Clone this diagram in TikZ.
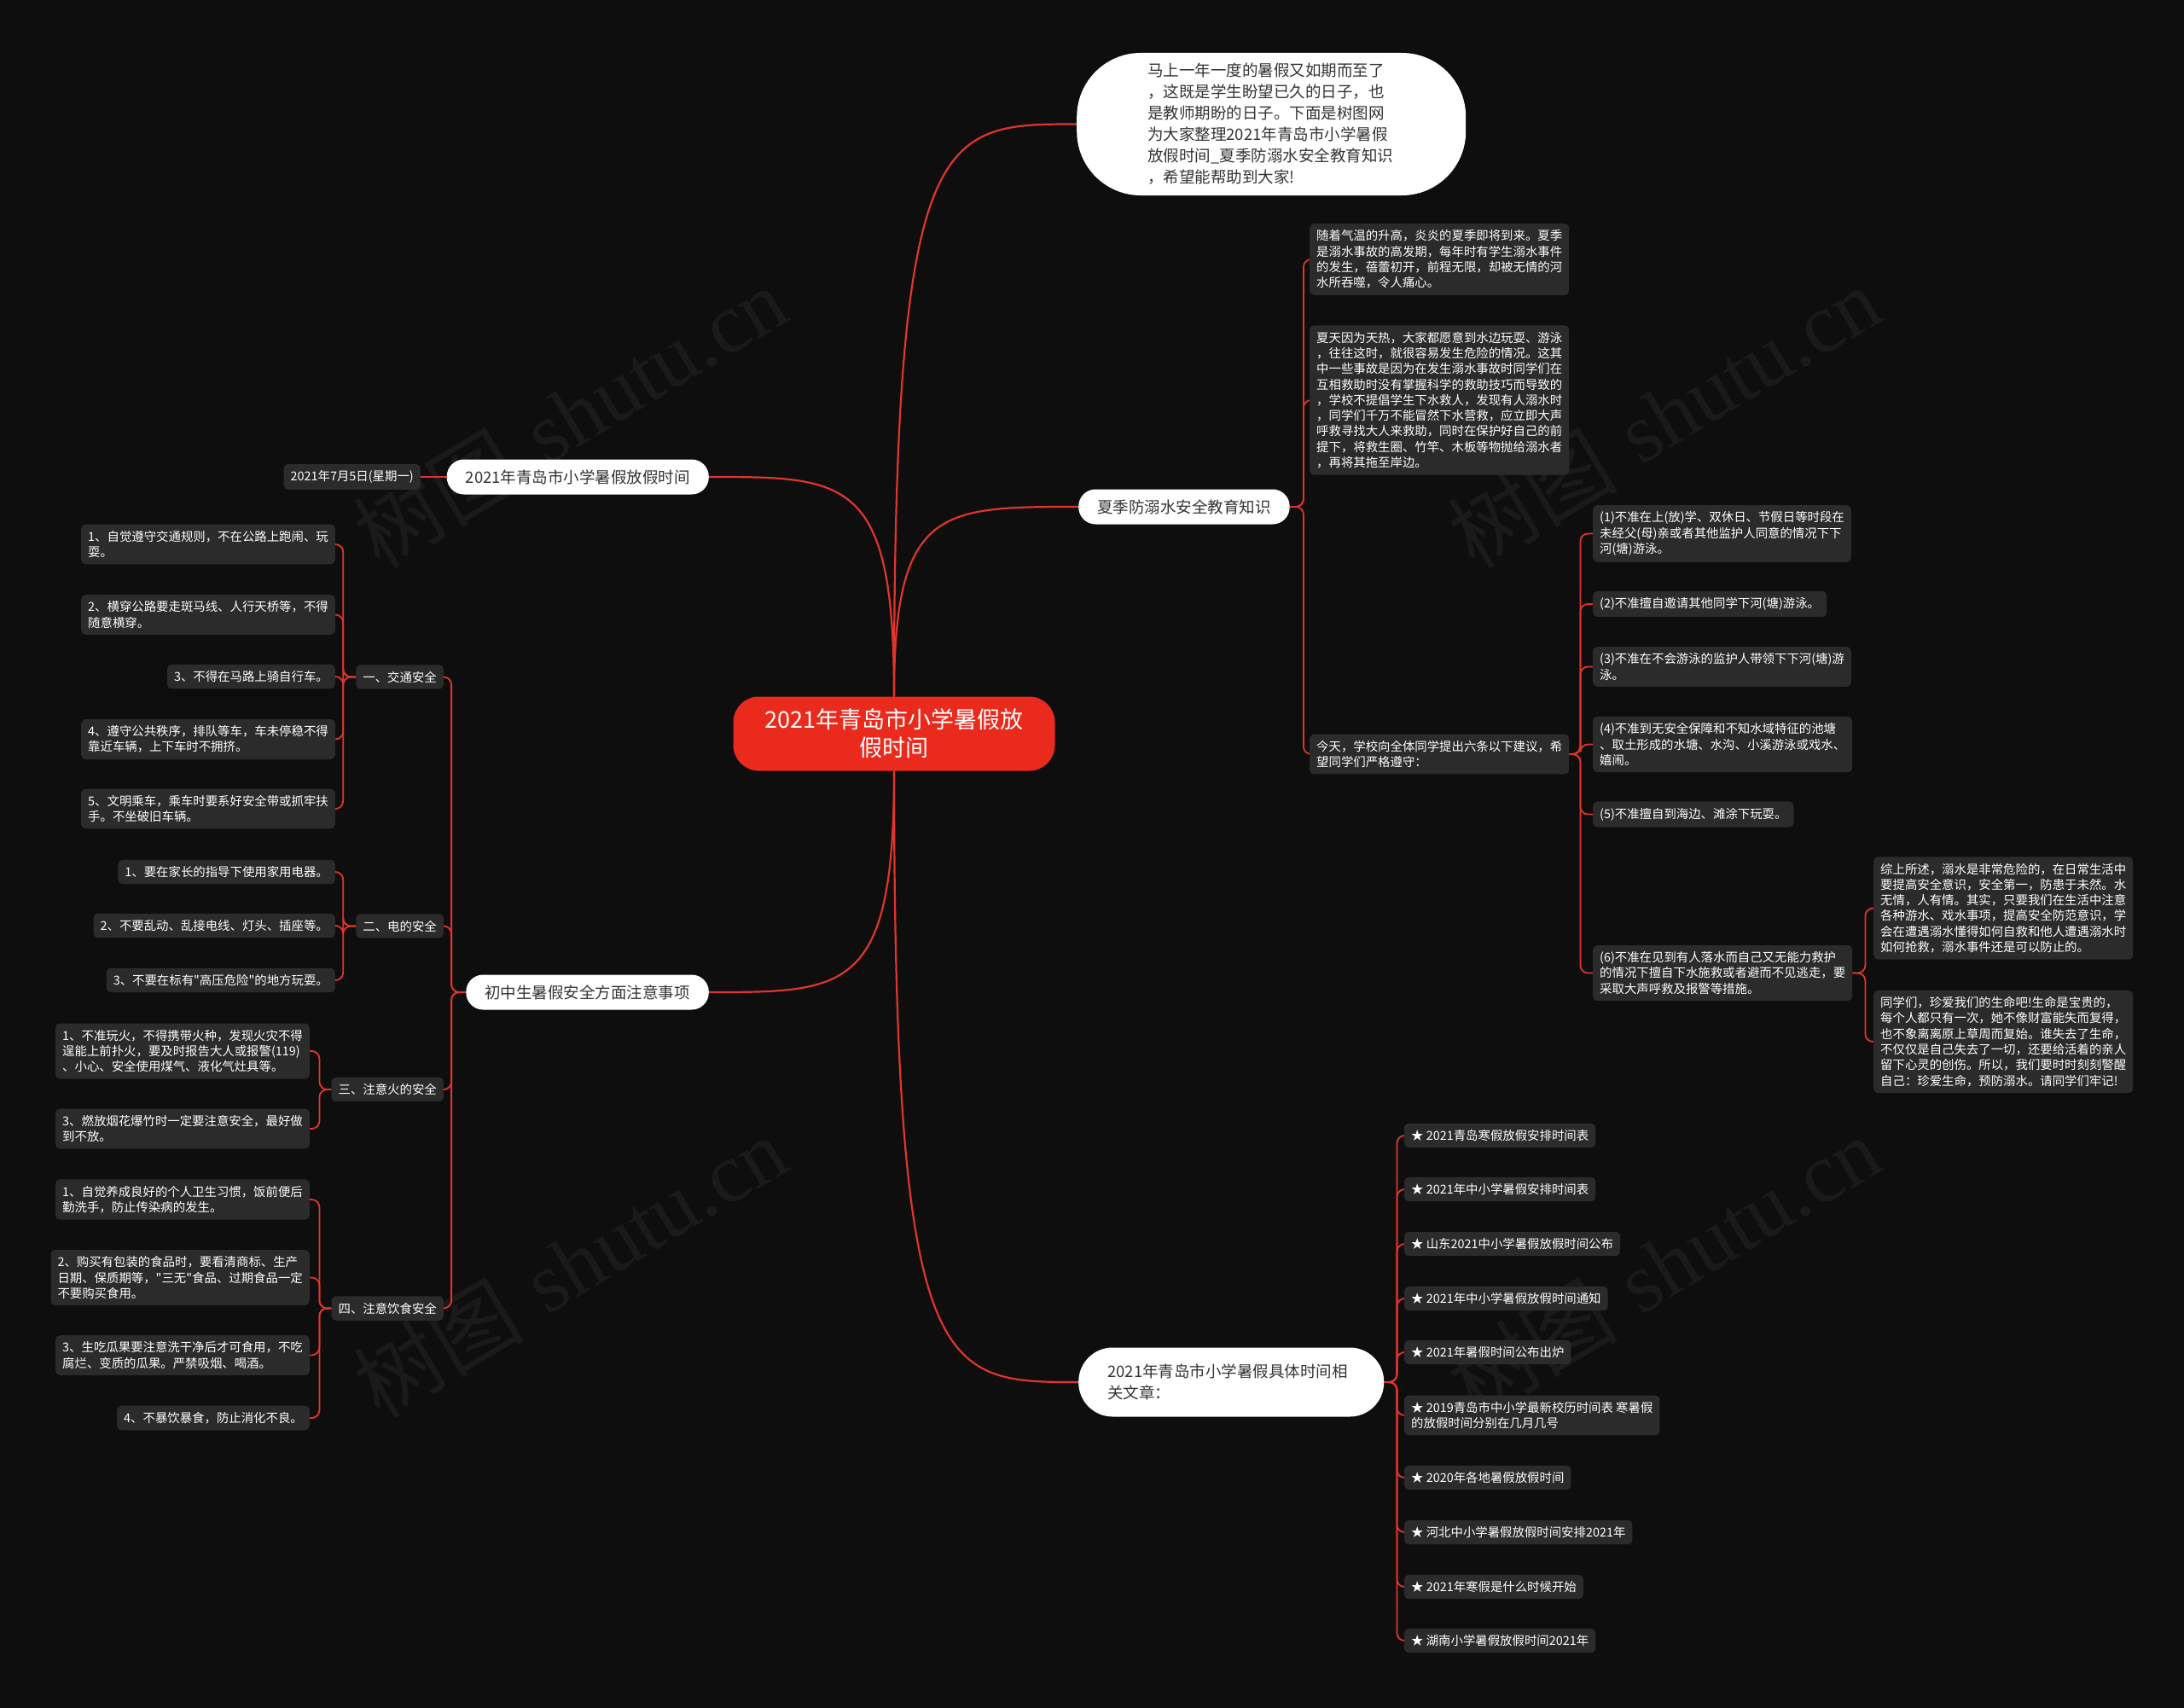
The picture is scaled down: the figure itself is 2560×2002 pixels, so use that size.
\documentclass[tikz,border=0pt]{standalone}
\usepackage{fontspec}
\setmainfont{Noto Sans CJK SC}[Ligatures=TeXOff]
\newfontfamily\wmserif{Liberation Serif}
\usetikzlibrary{calc}
\definecolor{bgc}{HTML}{0E0E0E}
\definecolor{leafc}{HTML}{2B2B2B}
\definecolor{linec}{HTML}{E0352B}
\definecolor{centerc}{HTML}{EA2A1D}
\definecolor{wmc}{HTML}{1A1A1A}
\definecolor{btext}{HTML}{333333}
\pgfdeclarelayer{wmlayer}
\pgfdeclarelayer{linelayer}
\pgfsetlayers{wmlayer,linelayer,main}
\tikzset{
  leaf/.style={fill=leafc, rounded corners=5pt, text=white, font=\fontsize{14.4pt}{18.3pt}\selectfont, inner xsep=8pt, inner ysep=7.5pt, align=left},
  branch/.style={fill=white, text=btext, rounded corners=20pt, font=\fontsize{18.5pt}{25pt}\selectfont, inner xsep=22pt, inner ysep=4pt, minimum height=41pt, align=left},
  conn/.style={draw=linec, line width=1.8pt, rounded corners=9pt},
  mainconn/.style={draw=linec, line width=2.2pt},
  wmcjk/.style={text=wmc, inner sep=0pt, font=\fontsize{100pt}{100pt}\selectfont},
  wmlat/.style={text=wmc, inner sep=0pt, font=\wmserif\fontsize{100pt}{100pt}\selectfont},
}
\newcommand\mcurve[2]{\draw[mainconn] (#1) .. controls (#1 |- #2) and ($(#1 |- #2)!0.25!(#2)$) .. (#2);}
\begin{document}
\begin{tikzpicture}[x=1pt,y=-1pt]
\useasboundingbox (0,0) rectangle (2560,2002);
\begin{pgfonlayer}{wmlayer}
\fill[bgc] (0,0) rectangle (2560,2002);
\foreach \wx/\wy [count=\k] in {669/490, 1951/490, 669/1486, 1951/1486} {
  \begin{scope}[shift={(\wx,\wy)}, rotate=31, transform shape]
    \node[wmcjk] (wma\k) at (-183,0) {树图};
    \node[wmlat] (wmb\k) at (115,0) {shutu.cn};
  \end{scope}
}
\end{pgfonlayer}

% center
\node[fill=centerc, text=white, rounded corners=30pt, minimum width=377pt, minimum height=87pt, align=center, font=\fontsize{27pt}{33pt}\selectfont] (C) at (1048,860) {2021年青岛市小学暑假放\\假时间};

% intro
\node[fill=white, text=btext, rounded corners=75pt, anchor=west, text width=290pt, inner xsep=83pt, minimum height=167pt, align=left, font=\fontsize{18.5pt}{25pt}\selectfont] (I) at (1262,145.5) {马上一年一度的暑假又如期而至了\\，这既是学生盼望已久的日子，也\\是教师期盼的日子。下面是树图网\\为大家整理2021年青岛市小学暑假\\放假时间\_夏季防溺水安全教育知识\\，希望能帮助到大家!};

% branch 1
\node[branch, anchor=west] (B1) at (1264,594) {夏季防溺水安全教育知识};
\node[leaf, anchor=west] (B1a) at (1535,304) {随着气温的升高，炎炎的夏季即将到来。夏季\\是溺水事故的高发期，每年时有学生溺水事件\\的发生，蓓蕾初开，前程无限，却被无情的河\\水所吞噬，令人痛心。};
\node[leaf, anchor=west] (B1b) at (1535,469) {夏天因为天热，大家都愿意到水边玩耍、游泳\\，往往这时，就很容易发生危险的情况。这其\\中一些事故是因为在发生溺水事故时同学们在\\互相救助时没有掌握科学的救助技巧而导致的\\，学校不提倡学生下水救人，发现有人溺水时\\，同学们千万不能冒然下水营救，应立即大声\\呼救寻找大人来救助，同时在保护好自己的前\\提下，将救生圈、竹竿、木板等物抛给溺水者\\，再将其拖至岸边。};
\node[leaf, anchor=west] (B1c) at (1535,884) {今天，学校向全体同学提出六条以下建议，希\\望同学们严格遵守：};
\node[leaf, anchor=west] (S1) at (1867,625.5) {(1)不准在上(放)学、双休日、节假日等时段在\\未经父(母)亲或者其他监护人同意的情况下下\\河(塘)游泳。};
\node[leaf, anchor=west] (S2) at (1867,708) {(2)不准擅自邀请其他同学下河(塘)游泳。};
\node[leaf, anchor=west] (S3) at (1867,781.5) {(3)不准在不会游泳的监护人带领下下河(塘)游\\泳。};
\node[leaf, anchor=west] (S4) at (1867,872.5) {(4)不准到无安全保障和不知水域特征的池塘\\、取土形成的水塘、水沟、小溪游泳或戏水、\\嬉闹。};
\node[leaf, anchor=west] (S5) at (1867,954.5) {(5)不准擅自到海边、滩涂下玩耍。};
\node[leaf, anchor=west] (S6) at (1867,1140.5) {(6)不准在见到有人落水而自己又无能力救护\\的情况下擅自下水施救或者避而不见逃走，要\\采取大声呼救及报警等措施。};
\node[leaf, anchor=west] (G1) at (2196,1064.5) {综上所述，溺水是非常危险的，在日常生活中\\要提高安全意识，安全第一，防患于未然。水\\无情，人有情。其实，只要我们在生活中注意\\各种游水、戏水事项，提高安全防范意识，学\\会在遭遇溺水懂得如何自救和他人遭遇溺水时\\如何抢救，溺水事件还是可以防止的。};
\node[leaf, anchor=west] (G2) at (2196,1221) {同学们，珍爱我们的生命吧!生命是宝贵的，\\每个人都只有一次，她不像财富能失而复得，\\也不象离离原上草周而复始。谁失去了生命，\\不仅仅是自己失去了一切，还要给活着的亲人\\留下心灵的创伤。所以，我们要时时刻刻警醒\\自己：珍爱生命，预防溺水。请同学们牢记!};

% branch related
\node[fill=white, text=btext, rounded corners=40pt, anchor=west, text width=290pt, inner xsep=34pt, minimum height=81pt, align=left, font=\fontsize{18.5pt}{25pt}\selectfont] (B2) at (1264,1620) {2021年青岛市小学暑假具体时间相\\关文章：};
\node[leaf, anchor=west] (R1) at (1646,1331) {★ 2021青岛寒假放假安排时间表};
\node[leaf, anchor=west] (R2) at (1646,1394) {★ 2021年中小学暑假安排时间表};
\node[leaf, anchor=west] (R3) at (1646,1458) {★ 山东2021中小学暑假放假时间公布};
\node[leaf, anchor=west] (R4) at (1646,1522) {★ 2021年中小学暑假放假时间通知};
\node[leaf, anchor=west] (R5) at (1646,1585) {★ 2021年暑假时间公布出炉};
\node[leaf, anchor=west] (R6) at (1646,1659) {★ 2019青岛市中小学最新校历时间表 寒暑假\\的放假时间分别在几月几号};
\node[leaf, anchor=west] (R7) at (1646,1732) {★ 2020年各地暑假放假时间};
\node[leaf, anchor=west] (R8) at (1646,1796) {★ 河北中小学暑假放假时间安排2021年};
\node[leaf, anchor=west] (R9) at (1646,1860) {★ 2021年寒假是什么时候开始};
\node[leaf, anchor=west] (R10) at (1646,1923) {★ 湖南小学暑假放假时间2021年};

% left branch A
\node[branch, anchor=east] (L1) at (831,559) {2021年青岛市小学暑假放假时间};
\node[leaf, anchor=east] (D) at (493,559) {2021年7月5日(星期一)};

% left branch B
\node[branch, anchor=east] (L2) at (831,1163) {初中生暑假安全方面注意事项};
\node[leaf, anchor=east] (T1) at (520,793.5) {一、交通安全};
\node[leaf, anchor=east] (T2) at (520,1085.5) {二、电的安全};
\node[leaf, anchor=east] (T3) at (520,1277) {三、注意火的安全};
\node[leaf, anchor=east] (T4) at (520,1533.5) {四、注意饮食安全};

\node[leaf, anchor=east] (T1a) at (393,638) {1、自觉遵守交通规则，不在公路上跑闹、玩\\耍。};
\node[leaf, anchor=east] (T1b) at (393,720.5) {2、横穿公路要走斑马线、人行天桥等，不得\\随意横穿。};
\node[leaf, anchor=east] (T1c) at (393,793) {3、不得在马路上骑自行车。};
\node[leaf, anchor=east] (T1d) at (393,866.5) {4、遵守公共秩序，排队等车，车未停稳不得\\靠近车辆，上下车时不拥挤。};
\node[leaf, anchor=east] (T1e) at (393,948) {5、文明乘车，乘车时要系好安全带或抓牢扶\\手。不坐破旧车辆。};

\node[leaf, anchor=east] (T2a) at (393,1022) {1、要在家长的指导下使用家用电器。};
\node[leaf, anchor=east] (T2b) at (393,1085) {2、不要乱动、乱接电线、灯头、插座等。};
\node[leaf, anchor=east] (T2c) at (393,1149) {3、不要在标有"高压危险"的地方玩耍。};

\node[leaf, anchor=east] (T3a) at (363,1232) {1、不准玩火，不得携带火种，发现火灾不得\\逞能上前扑火，要及时报告大人或报警(119)\\、小心、安全使用煤气、液化气灶具等。};
\node[leaf, anchor=east] (T3b) at (363,1323) {3、燃放烟花爆竹时一定要注意安全，最好做\\到不放。};

\node[leaf, anchor=east] (T4a) at (363,1406) {1、自觉养成良好的个人卫生习惯，饭前便后\\勤洗手，防止传染病的发生。};
\node[leaf, anchor=east] (T4b) at (363,1497.5) {2、购买有包装的食品时，要看清商标、生产\\日期、保质期等，"三无"食品、过期食品一定\\不要购买食用。};
\node[leaf, anchor=east] (T4c) at (363,1588.5) {3、生吃瓜果要注意洗干净后才可食用，不吃\\腐烂、变质的瓜果。严禁吸烟、喝酒。};
\node[leaf, anchor=east] (T4d) at (363,1662) {4、不暴饮暴食，防止消化不良。};

\begin{pgfonlayer}{linelayer}
\mcurve{C.north}{I.west}
\mcurve{C.north}{B1.west}
\mcurve{C.north}{L1.east}
\mcurve{C.south}{L2.east}
\mcurve{C.south}{B2.west}

\foreach \n in {B1a,B1b,B1c} {\draw[conn] (B1.east) -- ++(16,0) |- (\n.west);}
\foreach \n in {S1,S2,S3,S4,S5,S6} {\draw[conn] (B1c.east) -- ++(13,0) |- (\n.west);}
\foreach \n in {G1,G2} {\draw[conn] (S6.east) -- ++(15,0) |- (\n.west);}
\foreach \n in {R1,R2,R3,R4,R5,R6,R7,R8,R9,R10} {\draw[conn] (B2.east) -- ++(15,0) |- (\n.west);}

\draw[conn] (L1.west) -- (D.east);
\foreach \n in {T1,T2,T3,T4} {\draw[conn] (L2.west) -- ++(-17,0) |- (\n.east);}
\foreach \n in {T1a,T1b,T1c,T1d,T1e} {\draw[conn] (T1.west) -- ++(-15,0) |- (\n.east);}
\foreach \n in {T2a,T2b,T2c} {\draw[conn] (T2.west) -- ++(-15,0) |- (\n.east);}
\foreach \n in {T3a,T3b} {\draw[conn] (T3.west) -- ++(-14,0) |- (\n.east);}
\foreach \n in {T4a,T4b,T4c,T4d} {\draw[conn] (T4.west) -- ++(-14,0) |- (\n.east);}
\end{pgfonlayer}
\end{tikzpicture}
\end{document}
